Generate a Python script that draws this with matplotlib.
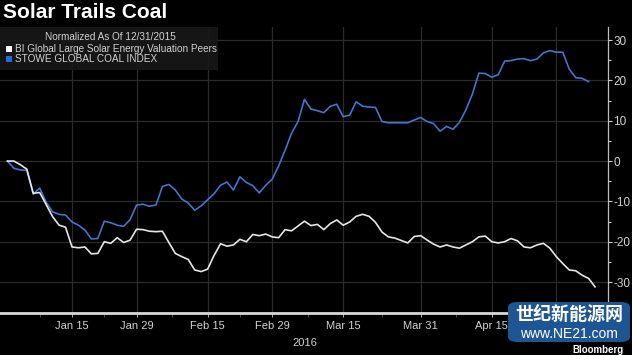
import numpy as np
import matplotlib.pyplot as plt
from matplotlib.patches import FancyBboxPatch, Rectangle
from matplotlib.ticker import MultipleLocator

plt.rcParams["font.family"] = ["Liberation Sans", "DejaVu Sans"]
plt.rcParams["axes.unicode_minus"] = False

# trading-day index, 0 = 12/31/2015
coal = [0, -1.8, -2.2, -2.3, -8.2, -6.7, -10.2, -12.6, -13.2, -13.4,
        -15.1, -15.9, -17.1, -19.3, -19.2, -14.9, -15.3, -15.9, -16.2, -14.5,
        -10.9, -10.7, -11.2, -10.9, -6.3, -5.8, -7.2, -9.4, -10.4, -12.2,
        -11.1, -9.6, -8.1, -6.0, -5.2, -7.2, -3.9, -5.3, -6.1, -7.9,
        -6.0, -4.5, -1.2, 2.7, 6.9, 9.8, 15.3, 12.9, 12.5, 12.0,
        13.6, 14.1, 11.0, 11.4, 14.7, 13.6, 13.4, 13.3, 9.8, 9.5,
        9.5, 9.5, 9.5, 10.2, 10.8, 9.8, 9.3, 7.4, 8.6, 7.9,
        9.6, 12.7, 16.6, 21.8, 21.7, 20.8, 21.4, 24.8, 24.9, 25.3,
        25.4, 24.9, 25.3, 26.8, 27.4, 27.0, 27.0, 22.8, 20.7, 20.5,
        19.7]
solar = [0, 0, -0.9, -2.0, -8.0, -7.8, -10.8, -13.8, -15.9, -16.4,
         -21.3, -21.5, -21.3, -23.0, -22.9, -20.0, -20.4, -19.0, -20.2, -19.6,
         -16.9, -17.0, -17.4, -17.5, -17.4, -20.2, -22.9, -23.7, -24.4, -27.0,
         -27.4, -26.8, -23.4, -20.5, -21.1, -20.8, -19.4, -20.0, -18.2, -18.5,
         -18.1, -18.8, -19.0, -17.0, -17.3, -16.1, -14.9, -16.0, -15.7, -17.0,
         -15.5, -14.6, -15.9, -15.1, -13.7, -13.2, -13.7, -15.2, -17.6, -18.8,
         -19.1, -19.7, -20.3, -18.7, -18.5, -19.6, -20.6, -21.3, -20.8, -21.3,
         -21.6, -20.8, -20.0, -18.8, -18.6, -20.0, -20.3, -20.0, -19.2, -19.8,
         -21.3, -21.5, -20.8, -20.4, -21.6, -23.7, -25.4, -27.0, -27.2, -28.3,
         -29.1, -31.2]
tick_idx = [10, 20, 31, 41, 52, 64, 75, 85]
tick_labels = ["Jan 15", "Jan 29", "Feb 15", "Feb 29", "Mar 15", "Mar 31", "Apr 15", ""]

bg = "#000000"
txt = "#d2d2d2"
blue = "#3f76cf"

fig = plt.figure(figsize=(6.32, 3.55), dpi=100, facecolor=bg)
ax = fig.add_axes([0, 0.118, 0.962, 0.806], facecolor=bg)

ax.plot(range(len(coal)), coal, color=blue, lw=1.2, zorder=3)
ax.plot(range(len(solar)), solar, color="#e6e6e6", lw=1.2, zorder=3)

ax.set_xlim(-1.15, 93)
ax.set_ylim(-37.7, 33.25)

ax.yaxis.tick_right()
ax.set_yticks([-30, -20, -10, 0, 10, 20, 30])
ax.yaxis.set_minor_locator(MultipleLocator(5))
ax.set_xticks(tick_idx)
ax.set_xticklabels(tick_labels)
mids = [(a + b) / 2 for a, b in zip([0] + tick_idx[:-1], tick_idx)]
ax.set_xticks(mids, minor=True)

ax.tick_params(axis="y", which="major", colors=txt, labelsize=8.5, length=3, width=0.8, pad=1)
ax.tick_params(axis="y", which="minor", colors=txt, length=2, width=0.8)
ax.tick_params(axis="x", which="major", colors=txt, labelsize=8, length=3, width=0.6, pad=3)
ax.tick_params(axis="x", which="minor", colors="#555555", length=3, width=0.6)

ax.grid(True, which="major", color="#2b2b2b", lw=0.9)
for s in ["top", "left"]:
    ax.spines[s].set_visible(False)
ax.spines["right"].set_color("#bdbdbd")
ax.spines["right"].set_linewidth(0.9)
ax.spines["bottom"].set_color("#d8d8d8")
ax.spines["bottom"].set_linewidth(2)

fig.text(305 / 632, 1 - 343 / 355, "2016", color=txt, fontsize=8, ha="center", va="center")

# title
fig.text(3 / 632, 1 - 13 / 355, "Solar Trails Coal", color="white", fontsize=15,
         fontweight="bold", va="center", ha="left")

# legend panel
fig.patches.append(Rectangle((0, 1 - 70 / 355), 218 / 632, 43 / 355, transform=fig.transFigure,
                             facecolor="#181818", alpha=0.9, edgecolor="none", zorder=5))
fig.text(110 / 632, 1 - 37 / 355, "Normalized As Of 12/31/2015", color=txt, fontsize=7.2,
         ha="center", va="center", zorder=6)
fig.patches.append(Rectangle((6 / 632, 1 - 52 / 355), 6 / 632, 6 / 355, transform=fig.transFigure,
                             facecolor="white", edgecolor="none", zorder=6))
fig.text(15 / 632, 1 - 49 / 355, "BI Global Large Solar Energy Valuation Peers", color=txt,
         fontsize=7.2, ha="left", va="center", zorder=6)
fig.patches.append(Rectangle((6 / 632, 1 - 62 / 355), 6 / 632, 6 / 355, transform=fig.transFigure,
                             facecolor="#1f6fd8", edgecolor="none", zorder=6))
fig.text(15 / 632, 1 - 59 / 355, "STOWE GLOBAL COAL INDEX", color=txt,
         fontsize=7.2, ha="left", va="center", zorder=6)

# watermark
fig.patches.append(FancyBboxPatch((508 / 632, 1 - 342 / 355), 122 / 632, 40 / 355,
                                  boxstyle="round,pad=0,rounding_size=0.015",
                                  transform=fig.transFigure, facecolor="#1e5593",
                                  edgecolor="none", zorder=7))
fig.text(569 / 632, 1 - 314 / 355, "世纪新能源网", color="white", fontsize=13, fontweight="bold",
         family=["Noto Sans CJK SC", "DejaVu Sans"], ha="center", va="center", zorder=8)
fig.text(569 / 632, 1 - 334 / 355, "www.NE21.com", color="white", fontsize=10,
         ha="center", va="center", zorder=8)
fig.text(624 / 632, 1 - 350 / 355, "Bloomberg", color="white", fontsize=7, fontweight="bold",
         ha="right", va="center", zorder=8)

fig.savefig("out.png", dpi=100, facecolor=bg)
